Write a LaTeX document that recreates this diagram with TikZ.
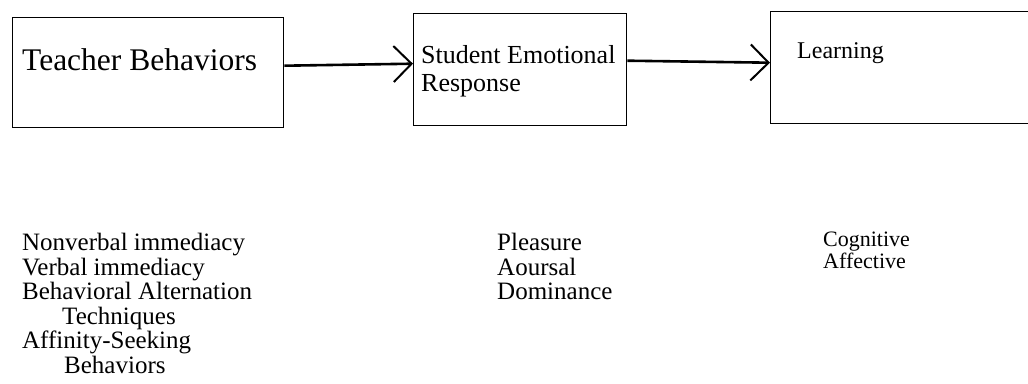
\documentclass[tikz,border=0pt]{standalone}
\usepackage{fontspec}
\setmainfont{Liberation Serif}
\usetikzlibrary{arrows.meta,positioning,calc}
\tikzset{
  arr/.style={-{Straight Barb[length=18pt,width=36pt,line width=2pt]},line width=2.6pt,draw=black},
  boxstyle/.style={draw=black,line width=1.4pt,inner sep=0pt,anchor=north west},
  boxtext/.style={inner sep=0pt,align=left,font=\fontsize{26}{28}\selectfont},
  listtext/.style={inner sep=0pt,anchor=north west,align=left,font=\fontsize{25}{24.5}\selectfont}
}
\begin{document}
\begin{tikzpicture}[x=1pt,y=-1pt]
  \useasboundingbox (0,0) rectangle (1028,383);
  % the three boxes
  \node[boxstyle,minimum width=271pt,minimum height=110pt] (teach) at (12,17) {};
  \node[boxstyle,minimum width=213pt,minimum height=112pt] (resp) at (413,13) {};
  \node[boxstyle,minimum width=270pt,minimum height=112pt] (learn) at (770,11) {};
  \node[boxtext,font=\fontsize{31.5}{33}\selectfont,below right=31pt and 10pt of teach.north west] (teachlbl) {Teacher Behaviors};
  \node[boxtext,below right=32pt and 8pt of resp.north west] (resplbl) {Student Emotional\\Response};
  \node[boxtext,font=\fontsize{24}{26}\selectfont,below right=31pt and 27pt of learn.north west] (learnlbl) {Learning};
  \draw[arr] ($(teach.east)+(0,-7)$) -- ($(resp.west)+(0,-6)$);
  \draw[arr] ($(resp.east)+(0,-9)$) -- ($(learn.west)+(0,-5)$);
  % lists under the boxes
  \node[listtext] (teachlist) at (22,233) {Nonverbal immediacy\\Verbal immediacy\\Behavioral Alternation\\\hspace*{40pt}Techniques\\Affinity-Seeking\\\hspace*{42pt}Behaviors};
  \node[listtext] (resplist) at (497,233) {Pleasure\\Aoursal\\Dominance};
  \node[listtext,font=\fontsize{22}{19.5}\selectfont] (learnlist) at (823,232) {Cognitive\\Affective};
\end{tikzpicture}
\end{document}
